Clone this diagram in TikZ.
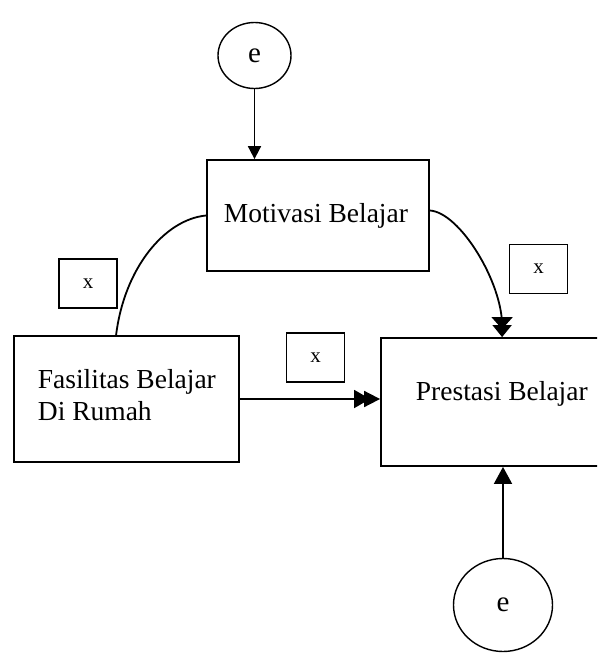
\documentclass[tikz,border=0pt]{standalone}
\usepackage{fontspec}
\setmainfont{Liberation Serif}
\usetikzlibrary{arrows.meta,shapes.geometric}
\begin{document}
\begin{tikzpicture}[x=1pt,y=1pt, line width=1.8pt,
  box/.style={draw, rectangle, inner sep=0pt},
  lbl/.style={font=\fontsize{27.5}{33}\selectfont, inner sep=0pt, anchor=base west},
  xbox/.style={draw, rectangle, line width=1.6pt, minimum width=58pt, minimum height=49pt, font=\fontsize{21}{25}\selectfont, inner sep=0pt},
  err/.style={draw, ellipse, inner sep=0pt, line width=1.4pt, font=\fontsize{29}{33}\selectfont},
  tipsmall/.style={-{Triangle[length=13pt,width=13pt]}},
  tipbig/.style={-{Triangle[length=17pt,width=18pt]}},
  tipdouble/.style={-{Triangle[length=16pt,width=18pt,sep=-6pt]Triangle[length=16pt,width=16pt]}},
  tipdown/.style={-{Triangle[length=12pt,width=21pt,sep=-4pt]Triangle[length=12pt,width=19pt]}},
]
\useasboundingbox (0,0) rectangle (597,-653);
\clip (0,0) rectangle (597,-653);

\node[err, minimum width=73pt, minimum height=66pt] (e1) at (254.5,-55.5) {e};
\node[box, minimum width=222pt, minimum height=111pt] (mot) at (318,-215.5) {};
\node[box, minimum width=225pt, minimum height=126pt] (fas) at (126.5,-399) {};
\node[box, minimum width=229pt, minimum height=128pt] (pre) at (495.5,-402) {};
\node[xbox] (x1) at (88,-283.5) {x};
\node[xbox] (x2) at (538.5,-269) {x};
\node[xbox] (x3) at (315.5,-357.5) {x};
\node[err, minimum width=99pt, minimum height=93pt] (e2) at (503,-605) {e};

\node[lbl] (tmot) at (223,-222) {Motivasi Belajar};
\node[lbl] (tfas1) at (37,-388) {Fasilitas Belajar};
\node[lbl] (tfas2) at (37,-420) {Di Rumah};
\node[lbl] (tpre) at (415,-400) {Prestasi Belajar};

\draw[tipsmall] (e1.south) -- (e1.south |- mot.north);
\draw[tipbig] (e2.north) -- (e2.north |- pre.south);
\draw[tipdouble] (fas.east) -- (fas.east -| pre.west);
\draw ([xshift=103pt]fas.north west) .. controls +(8,66) and +(-42,-4) .. (mot.west);
\draw[tipdown] ([yshift=5pt]mot.east) .. controls +(30,-2) and +(0,55) .. ([xshift=122pt]pre.north west);
\end{tikzpicture}
\end{document}
